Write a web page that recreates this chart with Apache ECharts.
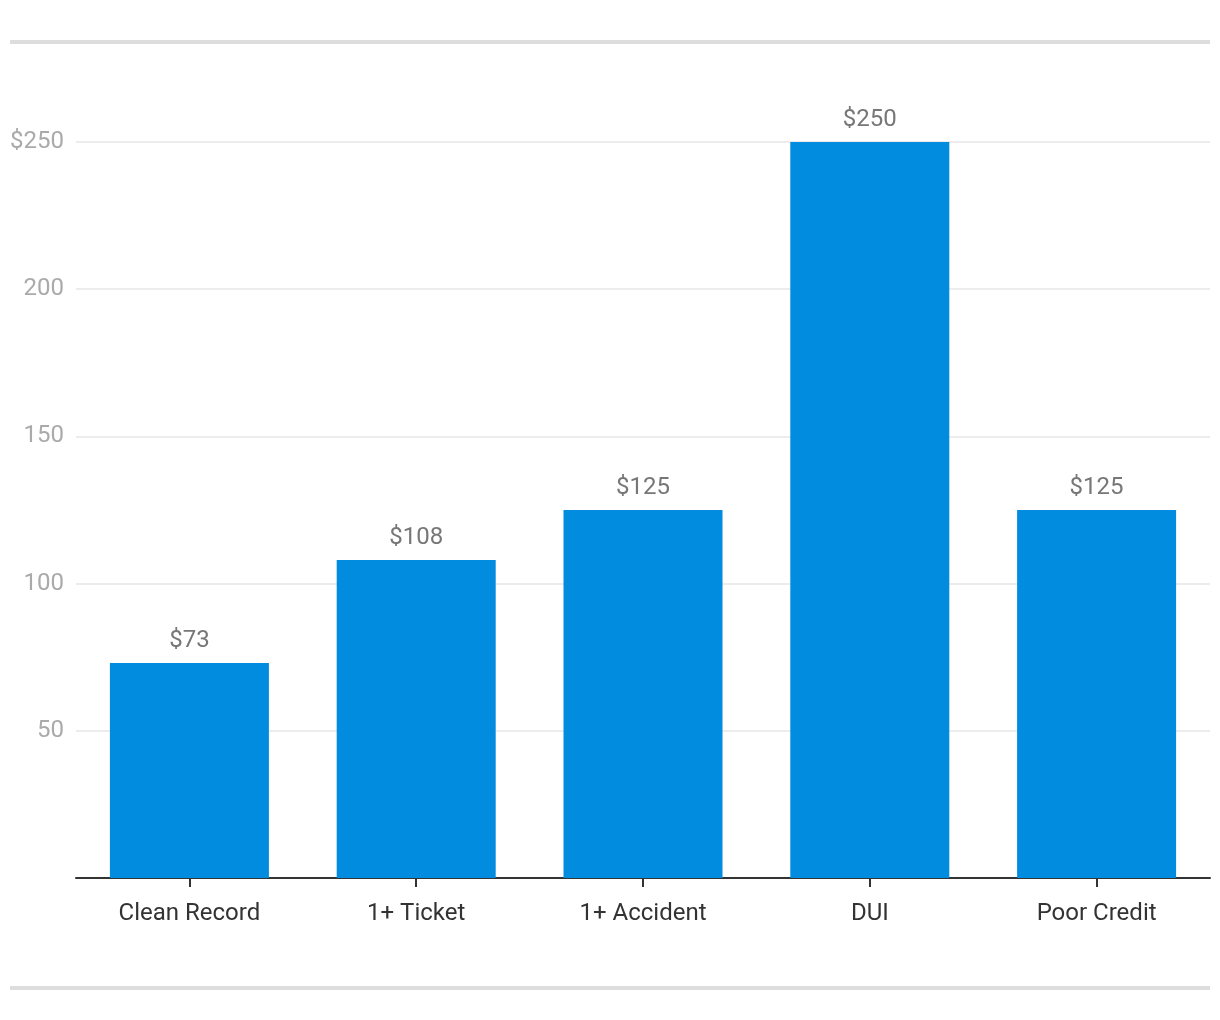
<!DOCTYPE html>
<html>
<head>
<meta charset="utf-8">
<script src="https://cdn.jsdelivr.net/npm/echarts@6/dist/echarts.min.js"></script>
<style>
  html, body { margin: 0; padding: 0; background: #fff; }
  #chart { width: 1220px; height: 1020px; }
</style>
</head>
<body>
<div id="chart"></div>
<script>
const categories = ['Clean Record', '1+ Ticket', '1+ Accident', 'DUI', 'Poor Credit']
const premiums = [73, 108, 125, 250, 125]

const chart = echarts.init(document.getElementById('chart'))
const font = 'Roboto, "Noto Sans", sans-serif'

chart.setOption({
  animation: false,
  graphic: [
    // grey rules above and below the chart
    {type: 'rect', shape: {x: 10, y: 40, width: 1200, height: 4}, style: {fill: '#dddddd'}},
    {type: 'rect', shape: {x: 10, y: 986, width: 1200, height: 4}, style: {fill: '#dddddd'}}
  ],
  grid: {left: 76, right: 10, top: 142, bottom: 142},
  xAxis: {
    type: 'category',
    data: categories,
    axisLine: {lineStyle: {color: '#333', width: 2}},
    axisTick: {show: true, alignWithLabel: true, length: 9, lineStyle: {color: '#333', width: 2}},
    axisLabel: {color: '#333', fontSize: 24, fontFamily: font, margin: 24}
  },
  yAxis: {
    type: 'value',
    min: 0,
    max: 250,
    interval: 50,
    axisLine: {show: false},
    axisTick: {show: false},
    splitLine: {lineStyle: {color: '#e6e6e6', width: 1.5}},
    axisLabel: {
      color: '#aaaaaa',
      fontSize: 24,
      fontFamily: font,
      margin: 12,
      padding: [4, 0, 0, 0],
      showMinLabel: false,
      formatter: function (v) {
        return v === 250 ? '$' + v : String(v)
      }
    }
  },
  series: [
    {
      type: 'bar',
      data: premiums,
      barWidth: 159,
      itemStyle: {color: '#018ce0'},
      label: {
        show: true,
        position: 'top',
        distance: 10,
        color: '#777',
        fontSize: 24,
        fontFamily: font,
        formatter: function (p) {
          return '$' + p.value
        }
      }
    }
  ]
})
</script>
</body>
</html>
